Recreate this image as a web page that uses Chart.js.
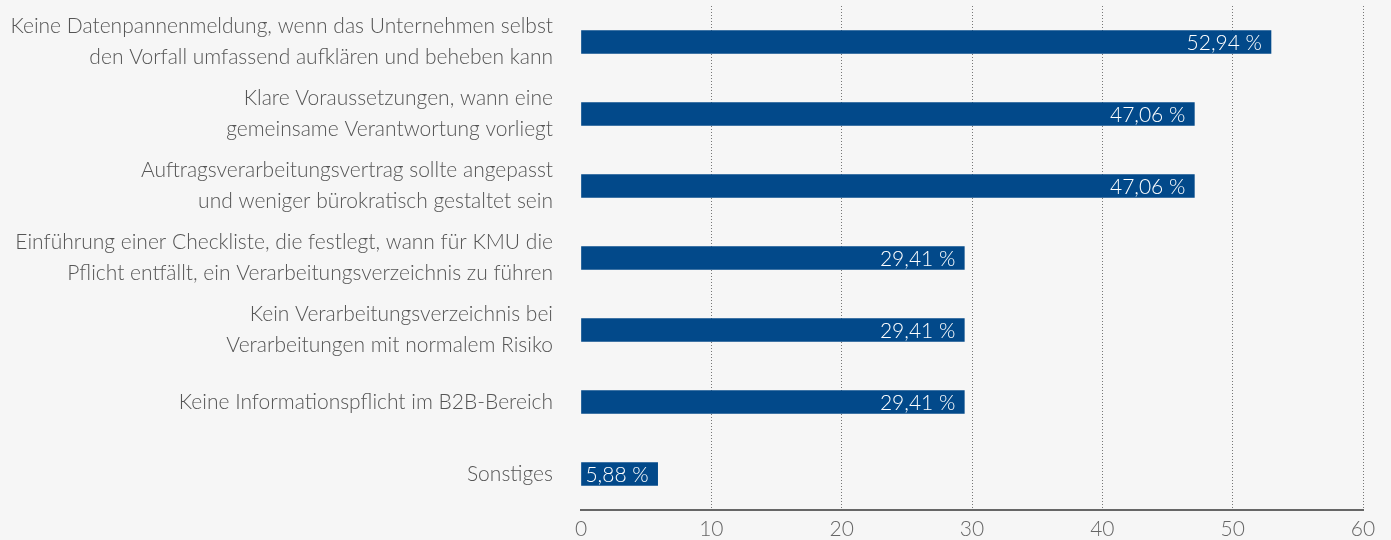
<!DOCTYPE html>
<html lang="de">
<head>
    <meta charset="UTF-8">
    <title>Vorschläge</title>
    <script src="https://cdn.jsdelivr.net/npm/chart.js"></script>
    <style>
        body { margin: 0; background: #f6f6f6; }
        canvas { display: block; }
    </style>
</head>
<body>
    <canvas id="myChart" width="1391" height="540"></canvas>

    <script>
        const categories = [
            ['Keine Datenpannenmeldung, wenn das Unternehmen selbst', 'den Vorfall umfassend aufklären und beheben kann'],
            ['Klare Voraussetzungen, wann eine', 'gemeinsame Verantwortung vorliegt'],
            ['Auftragsverarbeitungsvertrag sollte angepasst', 'und weniger bürokratisch gestaltet sein'],
            ['Einführung einer Checkliste, die festlegt, wann für KMU die', 'Pflicht entfällt, ein Verarbeitungsverzeichnis zu führen'],
            ['Kein Verarbeitungsverzeichnis bei', 'Verarbeitungen mit normalem Risiko'],
            'Keine Informationspflicht im B2B-Bereich',
            'Sonstiges'
        ];
        const shares = [52.94, 47.06, 47.06, 29.41, 29.41, 29.41, 5.88];
        const xTicks = [0, 10, 20, 30, 40, 50, 60];

        const fontFamily = 'Lato, "Open Sans", sans-serif';

        // white percentage labels at the end of each bar
        const valueLabels = {
            id: 'valueLabels',
            afterDatasetsDraw(chart) {
                const ctx = chart.ctx;
                const meta = chart.getDatasetMeta(0);
                ctx.save();
                ctx.font = '300 21px ' + fontFamily;
                ctx.fillStyle = '#ffffff';
                ctx.textAlign = 'right';
                ctx.textBaseline = 'middle';
                meta.data.forEach((bar, i) => {
                    const txt = shares[i].toFixed(2).replace('.', ',') + ' %';
                    ctx.fillText(txt, bar.x - 9, bar.y + 1);
                });
                ctx.restore();
            }
        };

        const background = {
            id: 'background',
            beforeDraw(chart) {
                const ctx = chart.ctx;
                ctx.save();
                ctx.fillStyle = '#f6f6f6';
                ctx.fillRect(0, 0, chart.width, chart.height);
                ctx.restore();
            }
        };

        const ctx = document.getElementById('myChart').getContext('2d');
        const myChart = new Chart(ctx, {
            type: 'bar',
            data: {
                labels: categories,
                datasets: [{
                    data: shares,
                    backgroundColor: '#02498a',
                    barThickness: 23
                }]
            },
            options: {
                indexAxis: 'y',
                responsive: false,
                animation: false,
                layout: { padding: { top: 6, right: 28, left: 0, bottom: 0 } },
                plugins: {
                    legend: { display: false },
                    tooltip: { enabled: false }
                },
                scales: {
                    x: {
                        min: 0,
                        max: 60,
                        afterBuildTicks: (axis) => { axis.ticks = xTicks.map(v => ({ value: v })); },
                        afterFit: (axis) => { axis.height = 30; },
                        grid: {
                            color: (c) => c.tick && c.tick.value === 0 ? 'transparent' : '#777777',
                            lineWidth: 1,
                            drawTicks: false
                        },
                        border: { display: true, color: '#666666', width: 2, dash: [1, 2] },
                        ticks: {
                            color: '#666666',
                            padding: 7,
                            font: { family: fontFamily, size: 21, weight: '300' }
                        }
                    },
                    y: {
                        grid: { display: false, drawTicks: false },
                        border: { display: false },
                        afterFit: (axis) => {
                            axis.width = 581;
                            axis.paddingTop = 0;
                            axis.paddingBottom = 0;
                        },
                        ticks: {
                            color: '#555555',
                            padding: 28,
                            font: { family: fontFamily, size: 21, weight: '300', lineHeight: 1.48 }
                        }
                    }
                }
            },
            plugins: [background, valueLabels]
        });
    </script>
</body>
</html>
